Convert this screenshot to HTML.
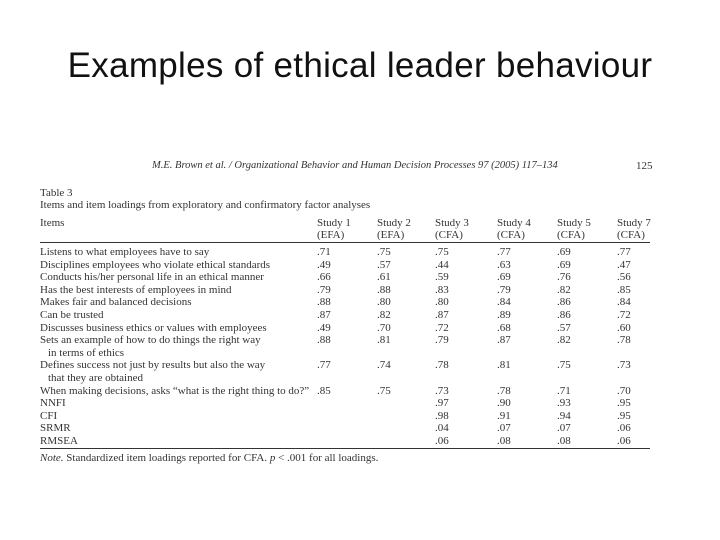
<!DOCTYPE html>
<html><head><meta charset="utf-8"><style>
body{margin:0;width:720px;height:540px;background:#fff;position:relative;overflow:hidden;font-family:"Liberation Serif",serif;color:#333}
.t{position:absolute;white-space:nowrap;font-size:11px;line-height:12px}
h1{position:absolute;left:0;width:720px;top:46px;margin:0;text-align:center;font:400 35px "Liberation Sans",sans-serif;color:#111;letter-spacing:0.3px}
.ln{position:absolute;left:40px;width:610px;background:#333}
</style></head><body>
<h1>Examples of ethical leader behaviour</h1>
<div class="t" style="left:152px;top:160px;font-style:italic;font-size:10.5px">M.E. Brown et al. / Organizational Behavior and Human Decision Processes 97 (2005) 117–134</div>
<div class="t" style="left:636px;top:160px">125</div>
<div class="t" style="left:40px;top:187px">Table 3</div>
<div class="t" style="left:40px;top:199px">Items and item loadings from exploratory and confirmatory factor analyses</div>
<div class="t" style="left:40px;top:217px">Items</div>
<div class="ln" style="top:242px;height:1px"></div>
<div class="ln" style="top:448px;height:1px"></div>
<div class="t" style="left:40px;top:452px"><i>Note.</i> Standardized item loadings reported for CFA. <i>p</i> &lt; .001 for all loadings.</div>
<script>
const studies=["Study 1","Study 2","Study 3","Study 4","Study 5","Study 7"];
const methods=["(EFA)","(EFA)","(CFA)","(CFA)","(CFA)","(CFA)"];
const items=["Listens to what employees have to say","Disciplines employees who violate ethical standards","Conducts his/her personal life in an ethical manner","Has the best interests of employees in mind","Makes fair and balanced decisions","Can be trusted","Discusses business ethics or values with employees","Sets an example of how to do things the right way|in terms of ethics","Defines success not just by results but also the way|that they are obtained","When making decisions, asks \u201cwhat is the right thing to do?\u201d","NNFI","CFI","SRMR","RMSEA"];
const values=[[".71",".75",".75",".77",".69",".77"],[".49",".57",".44",".63",".69",".47"],[".66",".61",".59",".69",".76",".56"],[".79",".88",".83",".79",".82",".85"],[".88",".80",".80",".84",".86",".84"],[".87",".82",".87",".89",".86",".72"],[".49",".70",".72",".68",".57",".60"],[".88",".81",".79",".87",".82",".78"],[".77",".74",".78",".81",".75",".73"],[".85",".75",".73",".78",".71",".70"],["","",".97",".90",".93",".95"],["","",".98",".91",".94",".95"],["","",".04",".07",".07",".06"],["","",".06",".08",".08",".06"]];
const colX=[317,377,435,497,557,617];
function mk(txt,x,y,name){const d=document.createElement('div');d.className='t';d.textContent=txt;d.style.left=x+'px';d.style.top=y+'px';


document.body.appendChild(d);}
studies.forEach((s,i)=>{mk(s,colX[i],217,'column-header-'+(i+1));mk(methods[i],colX[i],229,'column-method-'+(i+1));});
let y=246;
items.forEach((it,r)=>{const parts=it.split('|');mk(parts[0],40,y,'row-label-'+(r+1));
values[r].forEach((v,c)=>{if(v)mk(v,colX[c],y,'cell-r'+(r+1)+'-c'+(c+1));});
y+=12.6;if(parts[1]){mk(parts[1],48,y,'row-label-cont-'+(r+1));y+=12.6;}});
</script>
</body></html>
